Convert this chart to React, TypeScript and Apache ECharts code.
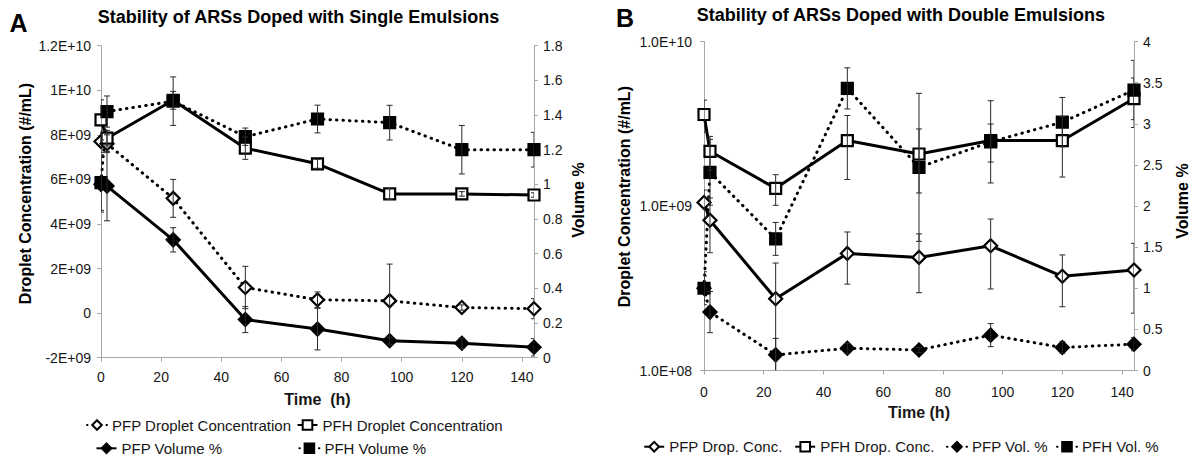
import React, { useEffect, useRef } from "react";
import * as echarts from "echarts";

// ---------- data ----------
const times = [0, 2, 24, 48, 72, 96, 120, 144];
const xTicks = [0, 20, 40, 60, 80, 100, 120, 140];

// Panel A (single emulsions)
const pfpDropA = [7.7e9, 7.6e9, 5.15e9, 1.15e9, 0.6e9, 0.55e9, 0.25e9, 0.2e9];
const pfpDropAErr = [0.5e9, 0.4e9, 0.85e9, 0.95e9, 0.35e9, 1.65e9, 0.12e9, 0.45e9];
const pfhDropA = [8.67e9, 7.85e9, 9.55e9, 7.4e9, 6.7e9, 5.35e9, 5.35e9, 5.3e9];
const pfhDropAErr = [0.9e9, 0.35e9, 0.4e9, 0.5e9, 0.2e9, 0.25e9, 0.1e9, 0.1e9];
const pfpVolA = [1.0, 0.99, 0.68, 0.22, 0.165, 0.098, 0.083, 0.06];
const pfpVolAErr = [0.16, 0.2, 0.07, 0.075, 0.12, 0.02, 0.03, 0.05];
const pfhVolA = [1.01, 1.42, 1.48, 1.275, 1.377, 1.356, 1.2, 1.2];
const pfhVolAErr = [0.16, 0.09, 0.14, 0.05, 0.08, 0.1, 0.14, 0.1];

// Panel B (double emulsions)
const pfpDropB = [1.05e9, 8.2e8, 2.73e8, 5.15e8, 4.87e8, 5.73e8, 3.74e8, 4.08e8];
const pfpDropBErr = [0.2e9, 0.3e9, 1.77e8, 1.8e8, 1.9e8, 2.6e8, 1.3e8, 1.85e8];
const pfhDropB = [3.6e9, 2.15e9, 1.28e9, 2.5e9, 2.07e9, 2.5e9, 2.5e9, 4.5e9];
const pfhDropBErr = [0.8e9, 0.5e9, 0.27e9, 1.05e9, 0.87e9, 0.65e9, 1.0e9, 1.5e9];
const pfpVolB = [1.0, 0.71, 0.19, 0.27, 0.25, 0.43, 0.28, 0.32];
const pfpVolBErr = [0.15, 0.25, 0.2, 0.06, 0.03, 0.14, 0.07, 0.08];
const pfhVolB = [1.0, 2.41, 1.6, 3.43, 2.47, 2.78, 3.02, 3.41];
const pfhVolBErr = [0.2, 0.4, 0.2, 0.25, 0.9, 0.5, 0.3, 0.36];

// Tick labels
const leftTickValsA = [-2e9, 0, 2e9, 4e9, 6e9, 8e9, 1e10, 1.2e10];
const leftTickLabelsA = ["-2E+09", "0", "2E+09", "4E+09", "6E+09", "8E+09", "1E+10", "1.2E+10"];
const leftTickValsB = [1e8, 1e9, 1e10];
const leftTickLabelsB = ["1.0E+08", "1.0E+09", "1.0E+10"];

const namesA = ["PFP Droplet Concentration", "PFH Droplet Concentration", "PFP Volume %", "PFH Volume %"];
const namesB = ["PFP Drop. Conc.", "PFH Drop. Conc.", "PFP Vol. %", "PFH Vol. %"];

// ---------- styling helpers ----------
const FONT = '"Liberation Sans", Arial, Helvetica, sans-serif';
const TXT = "#161616";
const AXIS = "#a8a8a8";
const DOT: any = { type: [0.5, 6], cap: "round" };

function lineSeries(name: string, xi: number, yi: number, vals: number[], kind: "openD" | "openS" | "fillD" | "fillS", dotted: boolean) {
  const diamond = kind === "openD" || kind === "fillD";
  const filled = kind === "fillD" || kind === "fillS";
  return {
    name,
    type: "line",
    xAxisIndex: xi,
    yAxisIndex: yi,
    data: times.map((t, i) => [t, vals[i]]),
    symbol: diamond ? "diamond" : "rect",
    symbolSize: diamond ? 13 : 11,
    showAllSymbol: true,
    itemStyle: { color: filled ? "#000" : "#fff", borderColor: "#000", borderWidth: 2.2 },
    lineStyle: dotted ? { color: "#000", width: 3, ...DOT } : { color: "#000", width: 3 },
    z: 2,
  };
}

function errSeries(xi: number, yi: number, vals: number[], errs: number[], floor: number) {
  return {
    type: "custom",
    xAxisIndex: xi,
    yAxisIndex: yi,
    data: times.map((t, i) => [t, vals[i], errs[i]]),
    encode: { x: 0, y: 1 },
    z: 3,
    silent: true,
    clip: true,
    renderItem: (params: any, api: any) => {
      const x = api.value(0);
      const y = api.value(1);
      const e = api.value(2);
      if (!e) return null;
      const top = api.coord([x, y + e]);
      let lo = y - e;
      let clamped = false;
      if (lo <= floor) {
        lo = floor;
        clamped = true;
      }
      const bot = api.coord([x, lo]);
      const st = { stroke: "#2a2a2a", lineWidth: 1 };
      const children: any[] = [
        { type: "line", shape: { x1: top[0], y1: top[1], x2: bot[0], y2: bot[1] }, style: st },
        { type: "line", shape: { x1: top[0] - 3, y1: top[1], x2: top[0] + 3, y2: top[1] }, style: st },
      ];
      if (!clamped) children.push({ type: "line", shape: { x1: bot[0] - 3, y1: bot[1], x2: bot[0] + 3, y2: bot[1] }, style: st });
      return { type: "group", children };
    },
  };
}

function xAxis(gi: number, name: string, margin: number) {
  return {
    type: "value",
    gridIndex: gi,
    min: 0,
    max: 144,
    interval: 20,
    name,
    nameLocation: "middle",
    nameGap: 34,
    nameTextStyle: { fontSize: 16, fontWeight: "bold", color: TXT, fontFamily: FONT },
    axisLine: { show: true, onZero: false, lineStyle: { color: AXIS, width: 1 } },
    axisTick: { show: true, length: 4, lineStyle: { color: AXIS }, customValues: xTicks },
    axisLabel: { fontSize: 14, color: TXT, fontFamily: FONT, margin, customValues: xTicks },
    splitLine: { show: false },
  };
}

function yCommon(margin: number) {
  return {
    axisLine: { show: true, onZero: false, lineStyle: { color: AXIS, width: 1 } },
    axisTick: { show: true, length: 4, lineStyle: { color: AXIS } },
    splitLine: { show: false },
    minorTick: { show: false },
    minorSplitLine: { show: false },
    axisLabel: { fontSize: 14, color: TXT, fontFamily: FONT, margin },
  };
}

function legendItem(name: string, left: number, top: number) {
  return {
    data: [name],
    left,
    top,
    padding: 0,
    itemWidth: 20,
    itemHeight: 12,
    selectedMode: false,
    textStyle: { fontSize: 15, color: TXT, fontFamily: FONT },
  };
}

function vText(text: string, x: number, y: number, size: number, rot: number) {
  return {
    type: "text",
    x,
    y,
    rotation: rot,
    silent: true,
    style: {
      text,
      fill: "#000",
      fontSize: size,
      fontWeight: "bold",
      fontFamily: FONT,
      textAlign: "center",
      textVerticalAlign: "middle",
      align: "center",
      verticalAlign: "middle",
    },
  };
}

export default function App() {
  const ref = useRef<HTMLDivElement>(null);

  useEffect(() => {
    if (!ref.current) return;
    const chart = echarts.init(ref.current, undefined, { renderer: "svg" });
    const cA = yCommon(10);
    const cAr = yCommon(9);
    const cB = yCommon(12);
    const cBr = yCommon(9);
    const option: any = {
      animation: false,
      backgroundColor: "#fff",
      grid: [
        { left: 101, top: 45.7, width: 433, height: 312, containLabel: false },
        { left: 704, top: 41.5, width: 430, height: 329, containLabel: false },
      ],
      xAxis: [xAxis(0, "Time  (h)", 12), xAxis(1, "Time (h)", 14)],
      yAxis: [
        {
          ...cA,
          type: "value",
          gridIndex: 0,
          position: "left",
          min: -2e9,
          max: 1.2e10,
          interval: 2e9,
          axisLabel: {
            ...cA.axisLabel,
            formatter: (v: number) => {
              const i = leftTickValsA.findIndex((t) => Math.abs(t - v) < 1);
              return i >= 0 ? leftTickLabelsA[i] : "";
            },
          },
        },
        { ...cAr, type: "value", gridIndex: 0, position: "right", min: 0, max: 1.8, interval: 0.2 },
        {
          ...cB,
          type: "log",
          logBase: 10,
          gridIndex: 1,
          position: "left",
          min: 1e8,
          max: 1e10,
          axisLabel: {
            ...cB.axisLabel,
            formatter: (v: number) => {
              const i = leftTickValsB.findIndex((t) => Math.abs(t - v) / t < 1e-6);
              return i >= 0 ? leftTickLabelsB[i] : "";
            },
          },
        },
        { ...cBr, type: "value", gridIndex: 1, position: "right", min: 0, max: 4, interval: 0.5 },
      ],
      legend: [
        legendItem(namesA[0], 86, 417.5),
        legendItem(namesA[1], 296.5, 417.5),
        legendItem(namesA[2], 95.5, 440.8),
        legendItem(namesA[3], 298.4, 440.8),
        legendItem(namesB[0], 643.2, 439.2),
        legendItem(namesB[1], 794.2, 439.2),
        legendItem(namesB[2], 946, 439.2),
        legendItem(namesB[3], 1056, 439.2),
      ],
      graphic: [
        vText("Stability of ARSs Doped with Single Emulsions", 298.5, 16.7, 18, 0),
        vText("Stability of ARSs Doped with Double Emulsions", 900.8, 15, 18, 0),
        vText("A", 18.5, 23, 25, 0),
        vText("B", 625, 18, 25, 0),
        vText("Droplet Concentration (#/mL)", 25, 193.5, 16, Math.PI / 2),
        vText("Volume %", 578.5, 200, 16, Math.PI / 2),
        vText("Droplet Concentration (#/mL)", 624, 196.7, 16, Math.PI / 2),
        vText("Volume %", 1182.6, 201, 16, Math.PI / 2),
      ],
      series: [
        lineSeries(namesA[0], 0, 0, pfpDropA, "openD", true),
        lineSeries(namesA[1], 0, 0, pfhDropA, "openS", false),
        lineSeries(namesA[2], 0, 1, pfpVolA, "fillD", false),
        lineSeries(namesA[3], 0, 1, pfhVolA, "fillS", true),
        errSeries(0, 0, pfpDropA, pfpDropAErr, -Infinity),
        errSeries(0, 0, pfhDropA, pfhDropAErr, -Infinity),
        errSeries(0, 1, pfpVolA, pfpVolAErr, 0),
        errSeries(0, 1, pfhVolA, pfhVolAErr, 0),
        lineSeries(namesB[0], 1, 2, pfpDropB, "openD", false),
        lineSeries(namesB[1], 1, 2, pfhDropB, "openS", false),
        lineSeries(namesB[2], 1, 3, pfpVolB, "fillD", true),
        lineSeries(namesB[3], 1, 3, pfhVolB, "fillS", true),
        errSeries(1, 2, pfpDropB, pfpDropBErr, 1e8),
        errSeries(1, 2, pfhDropB, pfhDropBErr, 1e8),
        errSeries(1, 3, pfpVolB, pfpVolBErr, 0),
        errSeries(1, 3, pfhVolB, pfhVolBErr, 0),
      ],
    };
    chart.setOption(option);
    return () => chart.dispose();
  }, []);

  return <div ref={ref} style={{ position: "absolute", left: 0, top: 0, width: 1201, height: 462 }} />;
}
